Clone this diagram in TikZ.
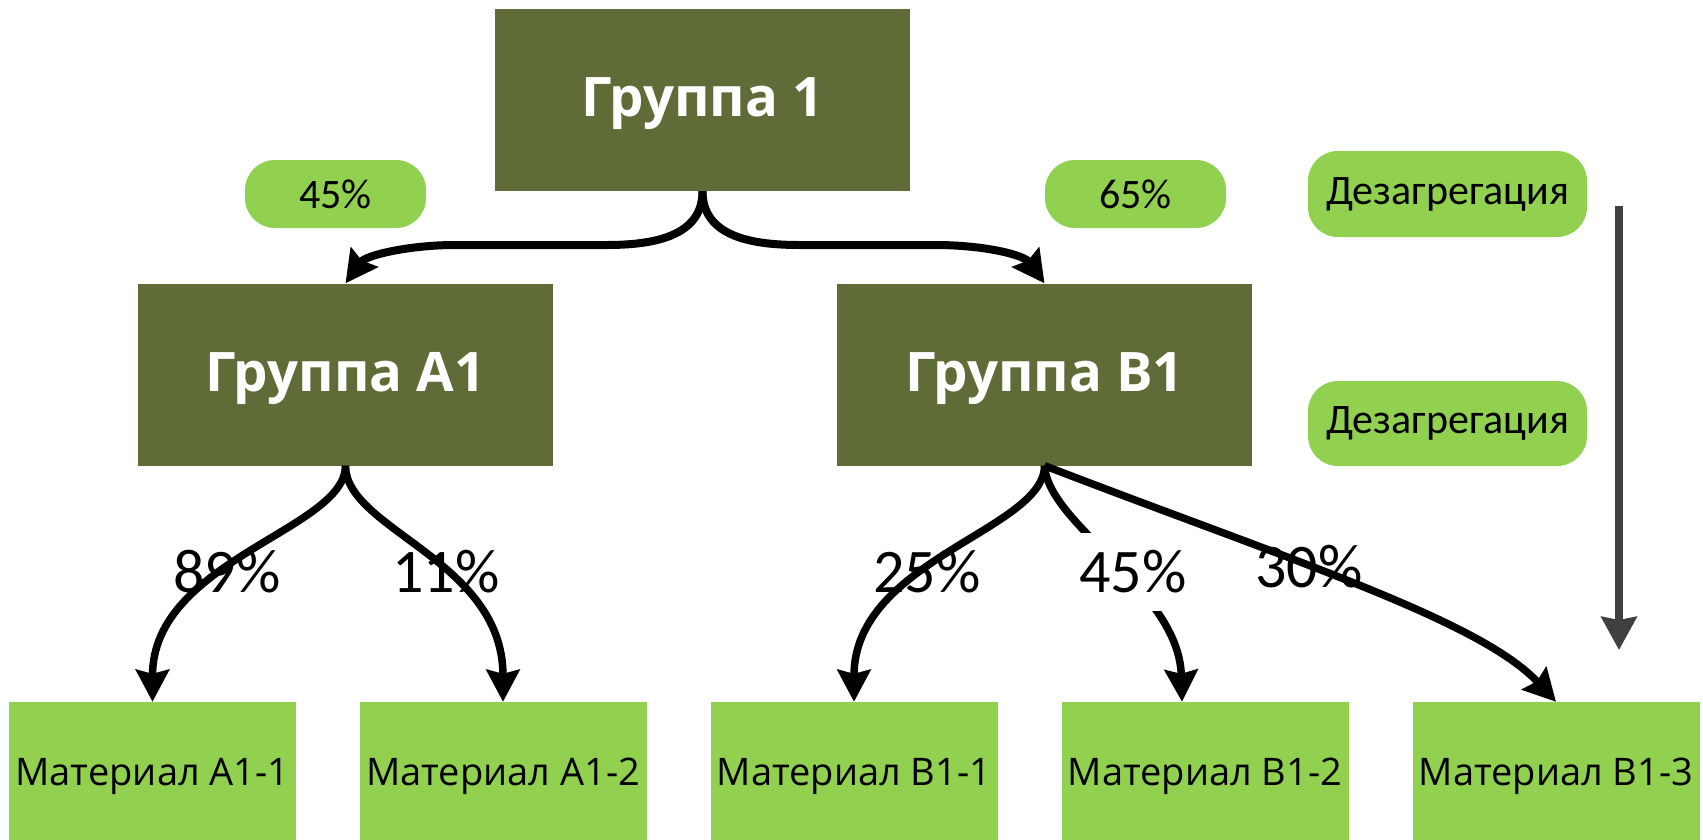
\documentclass[tikz,border=0pt]{standalone}
\usepackage{fontspec}
\setmainfont{Carlito}
\newfontfamily\titlefont{Open Sans}
\usetikzlibrary{arrows.meta,calc}
\definecolor{darkgrn}{HTML}{5F6C37}
\definecolor{litegrn}{HTML}{92D050}
\definecolor{arrgray}{HTML}{404040}
\newcommand{\lowtitle}[1]{\raisebox{-4pt}[\height][\depth]{#1}}
\begin{document}
\begin{tikzpicture}[x=1pt,y=-1pt,
  grpbox/.style={fill=darkgrn, minimum width=415pt, minimum height=182pt, text=white, inner sep=0pt,
    font=\titlefont\bfseries\fontsize{54.5}{64}\selectfont},
  matbox/.style={fill=litegrn, minimum width=287pt, minimum height=149pt, inner sep=0pt,
    font=\titlefont\fontsize{38}{46}\selectfont},
  pill/.style={fill=litegrn, rounded corners=30pt, inner sep=0pt, font=\fontsize{42}{50}\selectfont},
  pct/.style={font=\fontsize{62}{70}\selectfont, inner sep=0pt},
  conn/.style={line width=7.5pt, -{Stealth[length=32pt,width=33pt,inset=4pt]}},
  topconn/.style={conn, line width=8pt},
  grayarrow/.style={draw=arrgray, line width=7.7pt, -{Stealth[length=33pt,width=35pt,inset=3pt]}}
]
\useasboundingbox (0,0) rectangle (1703,839);
\fill[white] (0,0) rectangle (1703,839);

% main boxes
\node[grpbox] (g1) at (702.5,100) {\lowtitle{Группа 1}};
\node[grpbox] (ga) at (345.5,374.5) {\lowtitle{Группа А1}};
\node[grpbox] (gb) at (1044.5,374.5) {\lowtitle{Группа В1}};

% material boxes (extend below the page edge, as in the reference)
\node[matbox] (m1) at (152.5,776.5) {Материал А1-1};
\node[matbox] (m2) at (503,776.5) {Материал А1-2};
\node[matbox] (m3) at (854,776.5) {Материал В1-1};
\node[matbox] (m4) at (1205,776.5) {Материал В1-2};
\node[matbox] (m5) at (1556,776.5) {Материал В1-3};

% pills
\node[pill, minimum width=181pt, minimum height=68pt] (p45) at (335.5,194) {45\%};
\node[pill, minimum width=181pt, minimum height=68pt] (p65) at (1135.5,194) {65\%};
\node[pill, minimum width=279pt, minimum height=86pt] (d1) at (1447.5,194) {Дезагрегация};
\node[pill, minimum width=279pt, minimum height=85pt] (d2) at (1447.5,423.5) {Дезагрегация};

% top connectors
\draw[topconn] (g1.south) .. controls (702.5,238) and (650,245) .. (606,245) -- (455,245)
  .. controls (410,245) and (366,255) .. (ga.north);
\draw[topconn] (g1.south) .. controls (702.5,238) and (755,245) .. (800,245) -- (935,245)
  .. controls (985,245) and (1024,255) .. (gb.north);

% lower connectors
\draw[conn] (ga.south) .. controls +(0,64) and +(0,-142) .. (m1.north);
\draw[conn] (ga.south) .. controls +(0,64) and +(0,-142) .. (m2.north);
\draw[conn] (gb.south) .. controls +(0,64) and +(0,-142) .. (m3.north);
\coordinate (m4in) at ($(m4.north)+(-23,0)$);
\draw[conn] (gb.south) .. controls +(4,60) and +(-3,-112) .. (m4in);
\draw[conn] (gb.south) .. controls (1290,560) and (1480,620) .. (m5.north);

% percentage labels
\node[pct] (l89) at (227,572) {89\%};
\node[pct] (l11) at (446,572) {11\%};
\node[pct] (l25) at (927,572) {25\%};
\node[pct, fill=white, minimum height=78pt, inner xsep=3pt] (l45) at (1133,572) {45\%};
\node[pct] (l30) at (1309,567) {30\%};

% gray arrow
\coordinate (gtop) at (1619,206);
\coordinate (gbot) at (1619,650);
\draw[grayarrow] (gtop) -- (gbot);
\end{tikzpicture}
\end{document}
